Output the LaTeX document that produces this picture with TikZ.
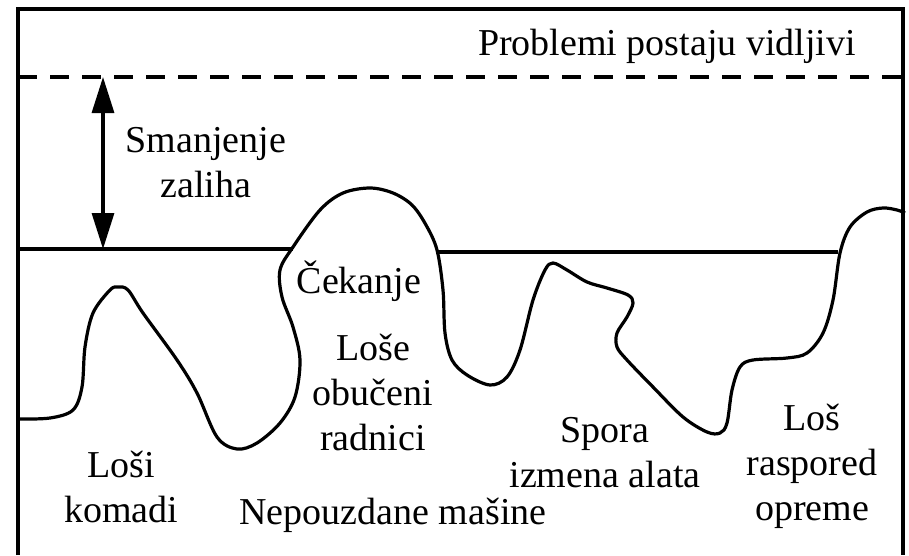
\documentclass[tikz,border=0pt]{standalone}
\usepackage{fontspec}
\setmainfont{Liberation Serif}
\usepackage{tikz}
\usetikzlibrary{arrows.meta}

\begin{document}
\begin{tikzpicture}[x=1pt, y=-1pt,
    thick line/.style={line width=3.2pt, line cap=butt},
    level label/.style={font=\fontsize{38}{45}\selectfont, align=center, inner sep=0pt, anchor=base},
    stock arrow/.style={thick line, {Triangle[length=36pt, width=22pt]}-{Triangle[length=36pt, width=22pt]}}]
  \useasboundingbox (0,0) rectangle (909,555);

  % frame, open at the bottom
  \coordinate (frameBL) at (18,555);
  \coordinate (frameTL) at (18,9);
  \coordinate (frameTR) at (903,9);
  \coordinate (frameBR) at (903,555);
  \draw[thick line, line join=miter] (frameBL) -- (frameTL) -- (frameTR) -- (frameBR);

  % lowered level (dashed) and water level
  \coordinate (lowL) at (18,77);
  \coordinate (lowR) at (903,77);
  \draw[thick line, dash pattern=on 19pt off 13pt] (lowL) -- (lowR);
  \coordinate (waterA) at (18,249);
  \coordinate (waterB) at (293,249);
  \coordinate (waterC) at (438,252);
  \coordinate (waterD) at (838,252);
  \draw[thick line] (waterA) -- (waterB);
  \draw[thick line] (waterC) -- (waterD);

  % inventory reduction
  \coordinate (stockTop) at (103,77);
  \coordinate (stockLow) at (103,249);
  \draw[stock arrow] (stockTop) -- (stockLow);

  % the rocks
  \draw[thick line, line join=round] plot[smooth, tension=0.55] coordinates {
    (18,419) (50,418) (73,410) (82,387) (85,347) (93,313) (110,290) (118,287)
    (128,290) (143,313) (177,360) (197,393) (217,437) (237,449) (257,443)
    (280,423) (295,397) (300,360) (293,327) (282,297) (280,270) (293,247)
    (320,210) (343,193) (370,188) (393,193) (412,205) (426,225) (437,250)
    (443,290) (445,333) (452,360) (467,375) (490,385) (507,377) (520,350)
    (533,300) (545,270) (553,263) (567,270) (587,282) (607,288) (628,295)
    (633,303) (627,317) (617,333) (617,347) (627,360) (653,387) (683,417)
    (707,432) (720,433) (727,423) (732,390) (740,367) (753,360) (787,358)
    (807,353) (823,333) (833,300) (840,253) (850,227) (867,212) (883,208)
    (897,210) (905,213)};

  % labels (base = baseline of the last line)
  \node[level label] (visible) at (667,55) {Problemi postaju vidljivi};
  \node[level label] (reduce) at (206,197) {Smanjenje\\zaliha};
  \node[level label] (waiting) at (359,293) {Čekanje};
  \node[level label] (workers) at (373,450) {Loše\\obučeni\\radnici};
  \node[level label] (parts) at (121,522) {Loši\\komadi};
  \node[level label] (machines) at (393,524) {Nepouzdane mašine};
  \node[level label] (setup) at (605,487) {Spora\\izmena alata};
  \node[level label] (layout) at (812,520) {Loš\\raspored\\opreme};
\end{tikzpicture}
\end{document}
